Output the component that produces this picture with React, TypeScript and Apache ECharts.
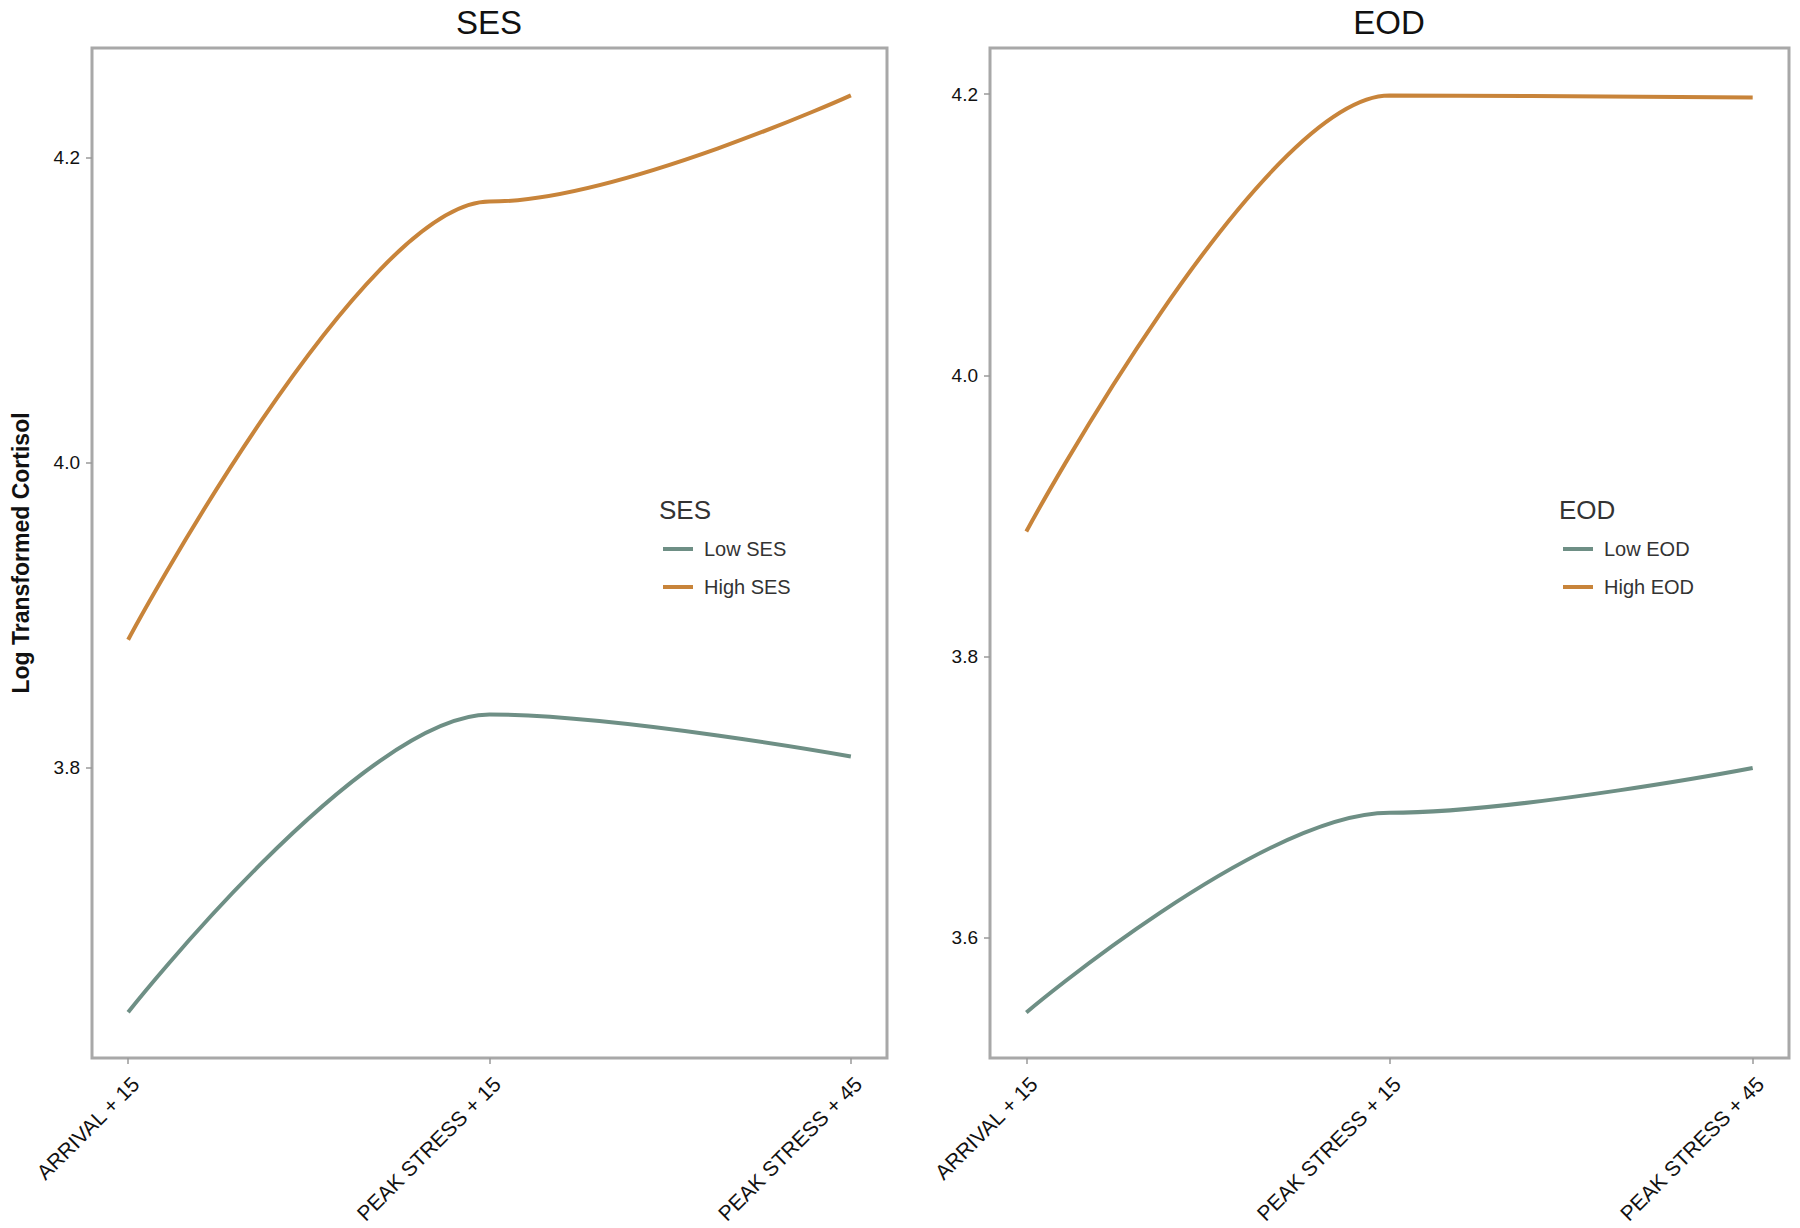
import React, { useEffect, useRef } from "react";
import * as echarts from "echarts";

const timepoints = ["ARRIVAL + 15", "PEAK STRESS + 15", "PEAK STRESS + 45"];
const lowSES = [3.640, 3.835, 3.8075];
const highSES = [3.884, 4.171, 4.2406];
const lowEOD = [3.547, 3.689, 3.7208];
const highEOD = [3.889, 4.199, 4.1976];
const sesTicks = [3.8, 4.0, 4.2];
const eodTicks = [3.6, 3.8, 4.0, 4.2];

const LOW_COLOR = "#6e8f85";
const HIGH_COLOR = "#c8843a";
const FONT = "Liberation Sans, Arial, sans-serif";

const toPoints = (vals: number[]) => vals.map((v, i) => [i, v]);

export default function App() {
  const ref = useRef<HTMLDivElement>(null);
  useEffect(() => {
    if (!ref.current) return;
    const chart = echarts.init(ref.current, null, { renderer: "svg" });
    const grids = [
      { left: 92, top: 48, width: 795, height: 1010 },
      { left: 990, top: 48, width: 799, height: 1010 },
    ];
    const xAxis = [0, 1].map((g) => ({
      type: "value",
      gridIndex: g,
      min: -0.1,
      max: 2.1,
      splitLine: { show: false },
      axisLine: { show: false, onZero: false },
      axisTick: { show: true, length: 6, lineStyle: { color: "#9a9a9a", width: 1.5 }, customValues: [0, 1, 2] },
      axisLabel: {
        customValues: [0, 1, 2],
        rotate: 45,
        margin: 15,
        verticalAlign: "top",
        fontSize: 21,
        fontFamily: FONT,
        color: "#111",
        formatter: (v: number) => timepoints[Math.round(v)] ?? "",
      },
    }));
    const yAxis = [
      { ticks: sesTicks, min: 3.61, max: 4.2716, g: 0 },
      { ticks: eodTicks, min: 3.5146, max: 4.2328, g: 1 },
    ].map((a) => ({
      type: "value",
      gridIndex: a.g,
      min: a.min,
      max: a.max,
      splitLine: { show: false },
      axisLine: { show: false, onZero: false },
      axisTick: { show: true, length: 6, lineStyle: { color: "#9a9a9a", width: 1.5 }, customValues: a.ticks },
      axisLabel: {
        customValues: a.ticks,
        margin: 12,
        fontSize: 19,
        fontFamily: FONT,
        color: "#111",
        formatter: (v: number) => v.toFixed(1),
      },
      name: a.g === 0 ? "Log Transformed Cortisol" : "",
      nameLocation: "middle",
      nameGap: 60,
      nameTextStyle: { fontSize: 23, fontFamily: FONT, color: "#111", fontWeight: "bold" },
    }));
    const mkSeries = (name: string, vals: number[], color: string, g: number) => ({
      name,
      type: "line",
      xAxisIndex: g,
      yAxisIndex: g,
      data: toPoints(vals),
      smooth: 0.35,
      smoothMonotone: "x",
      showSymbol: false,
      symbol: "none",
      lineStyle: { color, width: 4 },
      itemStyle: { color },
    });
    const legendBase = {
      orient: "vertical",
      icon: "rect",
      itemWidth: 30,
      itemHeight: 4,
      itemGap: 16,
      padding: 0,
      textStyle: { fontSize: 20, fontFamily: FONT, color: "#333", lineHeight: 22, padding: [0, 0, 0, 6] },
    };
    const titleStyle = { fontSize: 33, fontWeight: "normal", fontFamily: FONT, color: "#111" };
    const legTitleStyle = { fontSize: 26, fontWeight: "normal", fontFamily: FONT, color: "#333" };
    chart.setOption({
      animation: false,
      backgroundColor: "#ffffff",
      title: [
        { text: "SES", left: 489, top: 6, textAlign: "center", padding: 0, textStyle: titleStyle },
        { text: "EOD", left: 1389, top: 6, textAlign: "center", padding: 0, textStyle: titleStyle },
        { text: "SES", left: 659, top: 497, padding: 0, textStyle: legTitleStyle },
        { text: "EOD", left: 1559, top: 497, padding: 0, textStyle: legTitleStyle },
      ],
      grid: grids.map((g) => ({ ...g, show: true, borderColor: "#a8a8a8", borderWidth: 3, backgroundColor: "#fff", containLabel: false })),
      xAxis,
      yAxis,
      legend: [
        { ...legendBase, left: 663, top: 538, data: ["Low SES", "High SES"] },
        { ...legendBase, left: 1563, top: 538, data: ["Low EOD", "High EOD"] },
      ],
      series: [
        mkSeries("Low SES", lowSES, LOW_COLOR, 0),
        mkSeries("High SES", highSES, HIGH_COLOR, 0),
        mkSeries("Low EOD", lowEOD, LOW_COLOR, 1),
        mkSeries("High EOD", highEOD, HIGH_COLOR, 1),
      ],
    });
    return () => chart.dispose();
  }, []);
  return <div ref={ref} style={{ width: 1800, height: 1228, position: "absolute", left: 0, top: 0 }} />;
}
